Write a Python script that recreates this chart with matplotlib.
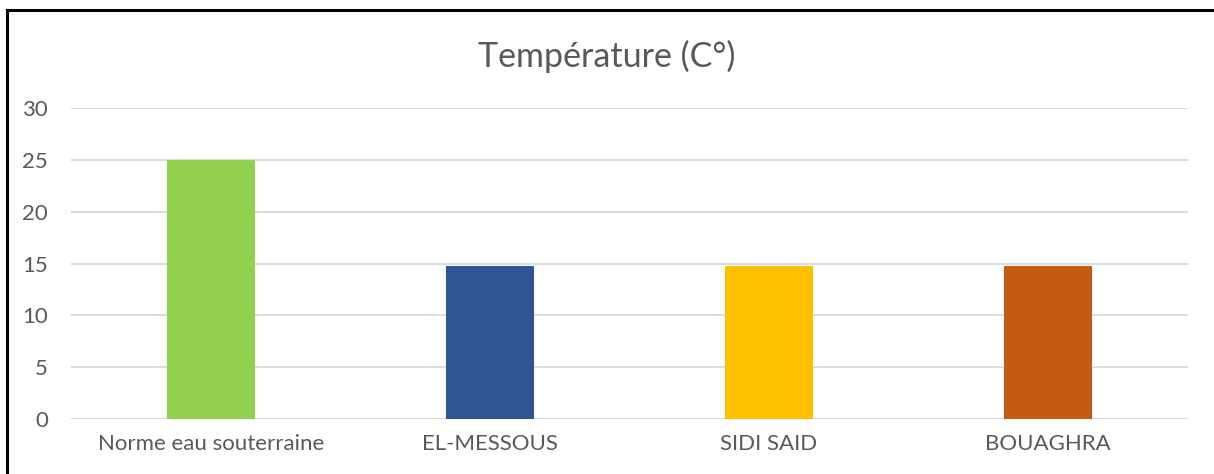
import matplotlib.pyplot as plt
from matplotlib.lines import Line2D

plt.rcParams['font.family'] = ['Lato', 'DejaVu Sans']

categories = ["Norme eau souterraine", "EL-MESSOUS", "SIDI SAID", "BOUAGHRA"]
values = [25, 14.8, 14.8, 14.8]
colors = ["#92D050", "#2F5597", "#FFC000", "#C55A11"]
yticks = [0, 5, 10, 15, 20, 25, 30]

fig = plt.figure(figsize=(12.14, 4.74), dpi=100)
ax = fig.add_axes([0.0585, 0.116, 0.92, 0.656])

x = range(len(categories))
ax.bar(x, values, width=0.315, color=colors, zorder=3)
ax.set_xlim(-0.5, len(categories) - 0.5)
ax.set_ylim(0, 30)
ax.set_yticks(yticks)
ax.set_xticks(list(x))
ax.set_xticklabels(categories)
ax.yaxis.grid(True, color="#D9D9D9", linewidth=1.3, zorder=0)
for s in ax.spines.values():
    s.set_visible(False)
ax.tick_params(axis="both", length=0, labelsize=16, colors="#595959")
ax.tick_params(axis="y", pad=16.5)
ax.tick_params(axis="x", pad=11)
ax.axhline(0, color="#D9D9D9", linewidth=1.3, zorder=2)

fig.text(0.5, 0.88, "Température (C°)", ha="center", va="center",
         fontsize=24.5, color="#595959")

# outer frame (left and top edges only are visible)
fig.add_artist(Line2D([7 / 1214, 7 / 1214], [0, 1 - 10 / 474], color="black", linewidth=2.2,
                      transform=fig.transFigure))
fig.add_artist(Line2D([7 / 1214, 1], [1 - 10 / 474, 1 - 10 / 474], color="black", linewidth=2.2,
                      transform=fig.transFigure))

fig.savefig("out.png", dpi=100)
